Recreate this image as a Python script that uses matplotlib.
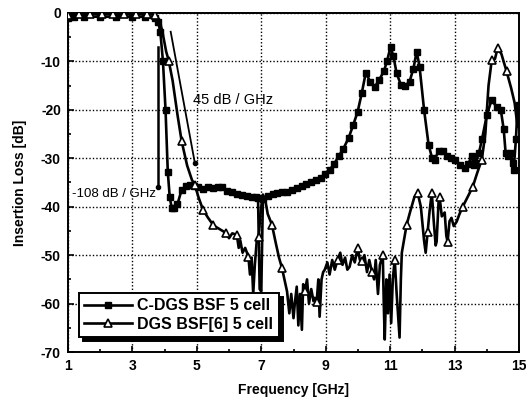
import numpy as np
import matplotlib
matplotlib.use("Agg")
from matplotlib import pyplot as plt

plt.rcParams['font.family'] = ['Liberation Sans', 'DejaVu Sans']
plt.rcParams['axes.unicode_minus'] = False

# C-DGS BSF 5 cell (filled squares)
f_cdgs = [1.0, 1.2, 1.5, 2.0, 2.5, 3.0, 3.4, 3.7, 3.8, 3.87, 3.95, 4.03, 4.1, 4.16,
          4.22, 4.3, 4.4, 4.53, 4.65, 4.78, 4.9, 5.05, 5.2, 5.35, 5.5, 5.65, 5.78,
          5.95, 6.1, 6.25, 6.4, 6.55, 6.7, 6.85, 6.9, 6.95, 7.0, 7.05, 7.2, 7.36,
          7.5, 7.65, 7.8, 7.95, 8.1, 8.25, 8.4, 8.53, 8.7, 8.84, 8.98, 9.12, 9.26,
          9.4, 9.55, 9.71, 9.85, 9.99, 10.12, 10.24, 10.38, 10.52, 10.66, 10.8,
          10.9, 11.01, 11.1, 11.2, 11.33, 11.47, 11.6, 11.72, 11.82, 11.91, 12.05,
          12.19, 12.3, 12.38, 12.5, 12.63, 12.75, 12.88, 13.0, 13.15, 13.31, 13.42,
          13.53, 13.6, 13.65, 13.75, 13.85, 14.0, 14.15, 14.3, 14.43, 14.52, 14.58,
          14.66, 14.74, 14.8, 14.83, 14.9, 14.95, 15.0]
s_cdgs = [-1.0, -0.8, -0.8, -0.8, -0.8, -0.8, -0.8, -1.0, -1.8, -4.0, -10.0, -20.0,
          -32.8, -38.0, -40.2, -40.3, -39.5, -36.5, -35.8, -35.6, -35.7, -36.0, -36.3,
          -36.0, -36.1, -35.9, -36.0, -36.8, -37.0, -37.4, -37.6, -37.8, -38.0, -38.1,
          -38.3, -57.0, -57.5, -38.5, -37.8, -37.4, -37.2, -37.0, -36.9, -36.6, -36.2,
          -35.8, -35.4, -35.0, -34.4, -34.0, -33.2, -32.4, -31.2, -29.6, -28.0, -25.8,
          -23.2, -20.4, -16.5, -12.4, -14.2, -15.3, -13.8, -12.1, -10.0, -7.0, -9.0,
          -12.5, -14.8, -15.0, -14.2, -11.5, -8.0, -11.1, -20.0, -27.2, -30.0, -30.3,
          -28.5, -28.6, -29.5, -30.0, -30.3, -31.5, -32.0, -31.2, -29.6, -31.5, -30.9,
          -29.0, -26.0, -21.0, -17.9, -19.5, -20.0, -24.0, -28.9, -29.5, -28.9, -31.0,
          -32.4, -26.0, -19.4, -19.0]

# DGS BSF[6] 5 cell (open triangles)
f_dgs = [1.0, 1.35, 1.7, 2.05, 2.4, 2.75, 3.1, 3.45, 3.7, 3.85, 3.95, 4.05, 4.13, 4.25,
         4.4, 4.53, 4.7, 4.85, 4.94, 5.05, 5.19, 5.35, 5.5, 5.6, 5.75, 5.9, 6.0, 6.1,
         6.24, 6.3, 6.35, 6.42, 6.5, 6.6, 6.65, 6.7, 6.75, 6.8, 6.86, 6.92, 6.98, 7.05,
         7.12, 7.2, 7.33, 7.45, 7.55, 7.64, 7.72, 7.8, 7.87, 7.93, 8.0, 8.04, 8.1, 8.15,
         8.2, 8.26, 8.3, 8.35, 8.42, 8.48, 8.55, 8.62, 8.66, 8.72, 8.77, 8.81, 8.87,
         8.92, 8.97, 9.05, 9.12, 9.2, 9.28, 9.37, 9.45, 9.52, 9.6, 9.67, 9.74, 9.82,
         9.9, 9.99, 10.06, 10.12, 10.2, 10.28, 10.35, 10.43, 10.5, 10.55, 10.62, 10.68,
         10.77, 10.8, 10.83, 10.88, 10.93, 10.98, 11.03, 11.08, 11.14, 11.2, 11.25,
         11.29, 11.33, 11.36, 11.45, 11.51, 11.62, 11.75, 11.85, 11.95, 12.05, 12.1,
         12.16, 12.22, 12.29, 12.35, 12.41, 12.44, 12.5, 12.53, 12.6, 12.69, 12.74,
         12.78, 12.84, 12.9, 12.97, 13.06, 13.15, 13.25, 13.4, 13.56, 13.7, 13.84,
         13.95, 14.05, 14.15, 14.25, 14.33, 14.45, 14.61, 14.75, 14.86, 14.95, 15.0]
s_dgs = [-0.4, -0.3, -0.3, -0.3, -0.3, -0.3, -0.3, -0.3, -0.4, -1.5, -4.5, -8.0, -9.9,
         -14.0, -21.0, -26.5, -31.5, -34.5, -35.5, -38.0, -40.6, -42.3, -43.7, -44.2,
         -44.8, -45.4, -46.5, -45.5, -45.8, -48.5, -47.0, -49.5, -48.5, -50.3, -54.0,
         -50.5, -58.0, -52.0, -47.0, -46.2, -41.0, -37.5, -38.5, -41.5, -43.7, -47.5,
         -50.5, -52.6, -55.0, -57.5, -62.0, -58.0, -63.0, -60.0, -56.5, -64.5, -58.0,
         -65.4, -56.0, -57.5, -55.0, -60.0, -57.0, -59.5, -58.8, -59.6, -55.0, -62.7,
         -55.0, -53.5, -53.0, -51.5, -54.0, -51.0, -53.0, -50.9, -49.5, -52.0, -50.5,
         -53.0, -52.4, -50.0, -51.5, -48.5, -51.0, -51.3, -50.0, -53.5, -51.0, -53.4,
         -55.0, -51.0, -58.0, -52.0, -49.9, -60.0, -67.4, -55.0, -62.0, -54.0, -64.0,
         -55.0, -50.9, -58.0, -63.0, -67.0, -55.0, -49.5, -46.0, -43.7, -41.0, -38.0,
         -37.1, -40.0, -47.0, -49.5, -45.2, -41.0, -37.1, -43.0, -48.0, -47.2, -39.0,
         -37.9, -42.0, -41.2, -46.0, -47.2, -43.0, -42.3, -44.0, -43.1, -41.5, -40.0,
         -38.0, -35.9, -33.0, -30.3, -25.0, -15.0, -9.7, -9.5, -7.3, -8.5, -12.1,
         -15.5, -18.6, -23.5, -21.0]

# frequencies where the triangle symbols sit
tri_at = [1.0, 1.35, 1.7, 2.05, 2.4, 2.75, 3.1, 3.45, 3.7, 4.13, 4.53, 4.94, 5.19, 5.5,
          5.9, 6.24, 6.6, 6.92, 7.33, 7.64, 8.35, 8.72, 9.37, 9.99, 10.12, 10.43,
          10.77, 11.14, 11.51, 11.85, 12.16, 12.29, 12.53, 12.78, 13.25, 13.56, 13.84,
          14.15, 14.33, 14.61]
sq_skip = [6.95, 7.0]

# slope guide lines
guide45_f = [4.19, 4.94]
guide45_s = [-3.9, -31.0]
guide108_f = [3.79, 3.79]
guide108_s = [-7.0, -36.0]

fig = plt.figure(figsize=(5.26, 4.01), dpi=100)
ax = fig.add_axes([0.129, 0.122, 0.858, 0.846])

sq_idx = [i for i, f in enumerate(f_cdgs) if f not in sq_skip]
tri_idx = [f_dgs.index(f) for f in tri_at]

ax.plot(f_cdgs, s_cdgs, color="black", linewidth=1.9, marker="s", markersize=4,
        markevery=sq_idx, label="C-DGS BSF 5 cell", zorder=3)
ax.plot(f_dgs, s_dgs, color="black", linewidth=1.9, marker="^", markersize=6,
        markerfacecolor="white", markeredgewidth=1.2, markevery=tri_idx,
        label="DGS BSF[6] 5 cell", zorder=3)

ax.plot(guide45_f, guide45_s, color="black", linewidth=1.3, zorder=2)
ax.plot(guide45_f[1:], guide45_s[1:], "o", color="black", markersize=3, zorder=2)
ax.plot(guide108_f, guide108_s, color="black", linewidth=1.8, zorder=2)
ax.plot(guide108_f[1:], guide108_s[1:], "o", color="black", markersize=3, zorder=2)

ax.text(4.88, -18, "45 dB / GHz", fontsize=10.5, va="center", ha="left")
ax.text(1.12, -37.3, "-108 dB / GHz", fontsize=9.5, va="center", ha="left")

ax.set_xlim(1, 15)
ax.set_ylim(-70, 0)
ax.set_xticks(np.arange(1, 16, 2))
ax.set_xticks(np.arange(2, 15, 2), minor=True)
ax.set_yticks(np.arange(-70, 1, 10))
ax.set_yticks(np.arange(-65, 0, 10), minor=True)
ax.tick_params(which="both", direction="in", top=False, right=False)
ax.tick_params(which="major", length=4, width=1.2, labelsize=10, pad=5)
ax.tick_params(which="minor", length=2.5, width=1.2)
for lab in ax.get_xticklabels() + ax.get_yticklabels():
    lab.set_fontweight("bold")
ax.grid(True, which="major", color="black", linestyle=(0, (1, 1.5)), linewidth=1.0)
for sp in ax.spines.values():
    sp.set_linewidth(1.4)

ax.set_xlabel("Frequency [GHz]", fontsize=10, fontweight="bold", labelpad=7)
ax.set_ylabel("Insertion Loss [dB]", fontsize=10, fontweight="bold", labelpad=10)

leg = ax.legend(loc="lower left", bbox_to_anchor=(0.024, 0.044),
                prop={"weight": "bold", "size": 11.5}, handlelength=3.0,
                frameon=True, fancybox=False, edgecolor="black",
                framealpha=1, borderpad=0.35, labelspacing=0.2, handletextpad=0.3,
                borderaxespad=0,
                shadow={"ox": 3, "oy": -3, "color": "black", "alpha": 1})
leg.get_frame().set_linewidth(1.4)
leg.set_zorder(5)

fig.savefig("out.png", dpi=100)
